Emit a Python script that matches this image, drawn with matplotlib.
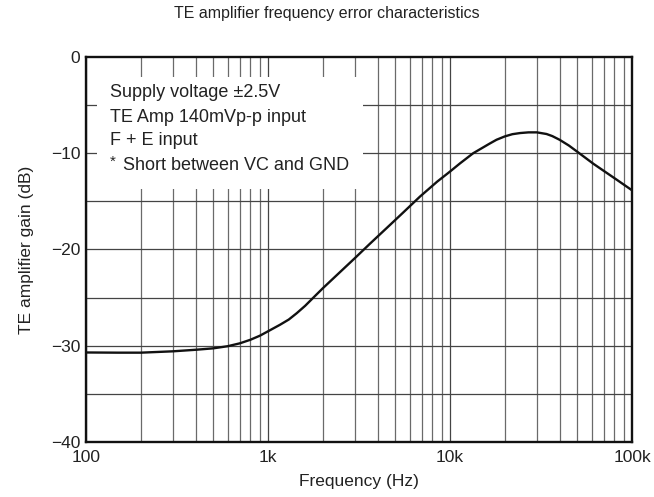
import matplotlib
matplotlib.use("Agg")
import matplotlib.pyplot as plt
from matplotlib.patches import Rectangle
import numpy as np

plt.rcParams['font.family'] = ['Liberation Sans', 'DejaVu Sans']

freq_hz = [100, 150, 200, 300, 400, 500, 600, 700, 800, 904, 1000, 1164, 1300, 1438,
           1600, 1775, 2000, 2489, 3000, 3631, 4500, 5500, 6840, 8500, 10000, 11350,
           13400, 16500, 18000, 20000, 22000, 24300, 27000, 30000, 33900, 36500, 40000,
           45000, 50000, 61400, 82400, 100000]
gain_db = [-30.7, -30.72, -30.72, -30.58, -30.42, -30.27, -30.05, -29.75, -29.38, -28.95,
           -28.5, -27.82, -27.28, -26.62, -25.85, -25.0, -24.03, -22.34, -20.9, -19.4,
           -17.75, -16.2, -14.5, -12.95, -11.9, -11.05, -10.0, -9.0, -8.6, -8.25, -8.02,
           -7.9, -7.83, -7.83, -8.0, -8.22, -8.6, -9.2, -9.84, -11.1, -12.75, -13.85]

y_ticks = [0, -10, -20, -30, -40]
y_tick_labels = ["0", "\u221210", "\u221220", "\u221230", "\u221240"]
x_ticks = [100, 1000, 10000, 100000]
x_tick_labels = ["100", "1k", "10k", "100k"]
notes = ["Supply voltage \u00b12.5V", "TE Amp 140mVp-p input", "F + E input"]
note_star = "Short between VC and GND"

fig = plt.figure(figsize=(6.54, 4.97), dpi=100)
ax = fig.add_axes([0.1315, 0.1107, 0.8349, 0.7746])
ax.set_xscale('log')
ax.set_xlim(100, 100000)
ax.set_ylim(-40, 0)

# grid
for dec in [100, 1000, 10000]:
    for m in range(2, 10):
        ax.axvline(dec * m, color='#6a6a6a', lw=0.9, zorder=1)
    ax.axvline(dec, color='#444444', lw=0.9, zorder=1)
for yv in np.arange(-35, 0, 5):
    ax.axhline(yv, color='#444444', lw=0.9, zorder=1)

# white box behind notes
ax.add_patch(Rectangle((0.02, 0.657), 0.487, 0.291, transform=ax.transAxes,
                       facecolor='white', edgecolor='none', zorder=2))

ax.plot(freq_hz, gain_db, color='#111111', lw=1.7, zorder=3, solid_joinstyle='round')

ax.set_xticks(x_ticks)
ax.set_xticklabels(x_tick_labels)
ax.set_xticks([], minor=True)
ax.set_yticks(y_ticks)
ax.set_yticklabels(y_tick_labels)
ax.tick_params(axis='both', length=0, labelsize=12.5, colors='#222222')
ax.tick_params(axis='y', pad=4)
ax.tick_params(axis='x', pad=6)

for s in ax.spines.values():
    s.set_linewidth(1.7)
    s.set_color('#111111')
    s.set_zorder(4)

ax.set_xlabel("Frequency (Hz)", fontsize=12.5, color='#222222', labelpad=6.5)
ax.set_ylabel("TE amplifier gain (dB)", fontsize=12.5, color='#222222', labelpad=12.5)
fig.text(0.5, 0.973, "TE amplifier frequency error characteristics", ha='center',
         va='center', fontsize=11.5, color='#222222')

tx = 0.044
ys = [0.909, 0.844, 0.782]
for t, yy in zip(notes, ys):
    ax.text(tx, yy, t, transform=ax.transAxes, fontsize=13, va='center', color='#222222', zorder=5)
ax.text(tx, 0.728, "*", transform=ax.transAxes, fontsize=11, va='center', color='#222222', zorder=5)
ax.text(0.068, 0.717, note_star, transform=ax.transAxes, fontsize=13, va='center',
        color='#222222', zorder=5)

fig.savefig("out.png", dpi=100)
